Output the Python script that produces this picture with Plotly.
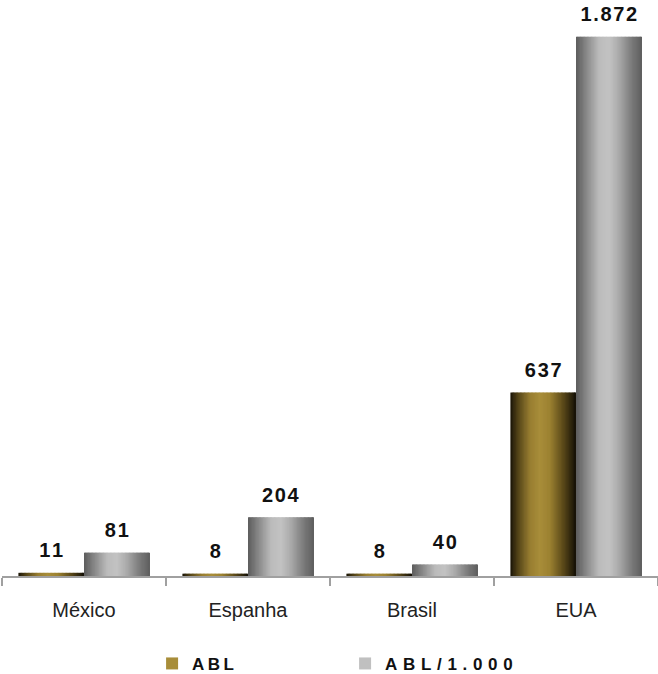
import plotly.graph_objects as go

# Data
paises = ["México", "Espanha", "Brasil", "EUA"]
abl = [11, 8, 8, 637]
abl_por_mil = [81, 204, 40, 1872]
serie_nomes = ["ABL", "ABL/1.000"]

# Horizontal "cylinder" shading for each series: (position across bar, colour)
gold_stops = [(0.0, (0x1a, 0x14, 0x06)), (0.12, (0x55, 0x45, 0x18)), (0.3, (0x98, 0x7e, 0x31)),
              (0.45, (0xa8, 0x8d, 0x39)), (0.6, (0x9c, 0x81, 0x31)), (0.8, (0x5c, 0x4a, 0x19)),
              (1.0, (0x14, 0x10, 0x06))]
grey_stops = [(0.0, (0x5c, 0x5c, 0x5c)), (0.15, (0x86, 0x86, 0x86)), (0.35, (0xbb, 0xbb, 0xbb)),
              (0.5, (0xc3, 0xc3, 0xc3)), (0.65, (0xab, 0xab, 0xab)), (0.85, (0x7a, 0x7a, 0x7a)),
              (1.0, (0x5e, 0x5e, 0x5e))]


def shade(stops, t):
    for (t0, c0), (t1, c1) in zip(stops[:-1], stops[1:]):
        if t0 <= t <= t1:
            f = (t - t0) / (t1 - t0) if t1 > t0 else 0
            r, g, b = (round(a + (bb - a) * f) for a, bb in zip(c0, c1))
            return f"rgb({r},{g},{b})"
    r, g, b = stops[-1][1]
    return f"rgb({r},{g},{b})"


def spaced(s, sep="\u200a"):
    return sep.join(s)


def fmt(v):
    return spaced(f"{v:,}".replace(",", "."))


BAR_W = 0.4
N_STRIPES = 48
step = BAR_W / N_STRIPES
LABEL_GAP = 30  # lift of value labels above bar tops (data units)

fig = go.Figure()

series = [(abl, gold_stops, -BAR_W, serie_nomes[0], "\u2009"),
          (abl_por_mil, grey_stops, 0.0, serie_nomes[1], "\u2005\u200a")]

for vals, stops, start, nome, sep in series:
    for i in range(N_STRIPES):
        t = (i + 0.5) / N_STRIPES
        w = step * 1.6 if i < N_STRIPES - 1 else step
        fig.add_trace(go.Bar(
            x=paises, y=vals,
            offset=start + i * step, width=w,
            marker=dict(color=shade(stops, t), line=dict(width=0)),
            showlegend=False, hoverinfo="skip",
        ))
    # value labels, sitting just above each bar
    fig.add_trace(go.Bar(
        x=paises, y=[LABEL_GAP] * len(vals), base=vals, offset=start, width=BAR_W,
        marker=dict(color="rgba(0,0,0,0)", line=dict(width=0)),
        text=[fmt(v) for v in vals], textposition="outside",
        textfont=dict(family="Liberation Sans", size=20, color="#111111", weight="bold"),
        cliponaxis=False, showlegend=False, name=nome, hoverinfo="skip",
    ))
    # legend entry
    fig.add_trace(go.Bar(
        x=[None], y=[None], name=spaced(nome, sep),
        marker=dict(color=shade(stops, 0.45), line=dict(width=0)),
        showlegend=True,
    ))

fig.update_layout(
    width=658, height=674,
    margin=dict(l=2, r=0, t=0, b=98, autoexpand=False),
    barmode="overlay",
    plot_bgcolor="white", paper_bgcolor="white",
    font=dict(family="Liberation Sans", color="#222222"),
    xaxis=dict(
        type="category", categoryorder="array", categoryarray=paises,
        showline=True, linecolor="#a0a0a0", linewidth=2,
        ticks="outside", tickson="boundaries", ticklen=8, tickwidth=2, tickcolor="#a0a0a0",
        tickfont=dict(size=20, color="#222222"), ticklabelstandoff=15,
        showgrid=False, zeroline=False, automargin=False,
    ),
    yaxis=dict(range=[0, 2000], visible=False, showgrid=False, zeroline=False),
    legend=dict(
        orientation="h", x=0.523, xanchor="center",
        yref="container", y=0.015, yanchor="middle",
        font=dict(size=17, color="#111111", weight="bold"),
        entrywidth=148, itemwidth=30,
    ),
    showlegend=True,
)

fig.write_html("out.html")
